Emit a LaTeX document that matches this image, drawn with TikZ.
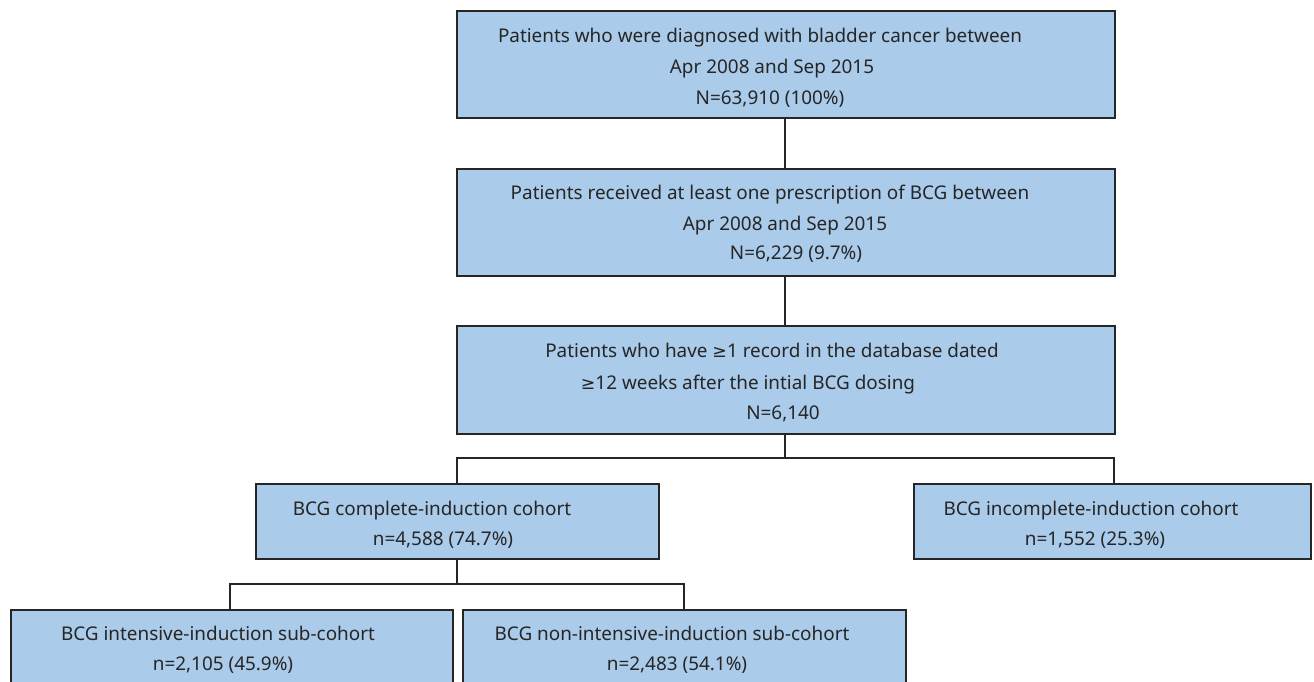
\documentclass[tikz,border=0pt]{standalone}
\usepackage{fontspec}
\setmainfont{Noto Sans}
\newfontfamily\symfnt[Scale=0.92]{DejaVu Sans}
\newcommand{\geqsym}{{\symfnt ≥}}
\definecolor{boxfill}{RGB}{170,203,233}
\begin{document}
\begin{tikzpicture}[x=1pt,y=-1pt,
  box/.style={draw=black!85, line width=1.7pt, fill=boxfill, rectangle, anchor=north west, inner sep=0pt},
  txt/.style={anchor=mid, yshift=-4.5pt, inner sep=0pt, font=\fontsize{18.9}{22}\selectfont, text=black!85},
  conn/.style={draw=black!85, line width=1.7pt}]
\clip (0,0) rectangle (1314,681);
% boxes
\node[box, minimum width=658pt, minimum height=107pt] (A) at (456,10) {};
\node[box, minimum width=658pt, minimum height=107pt] (B) at (456,168) {};
\node[box, minimum width=658pt, minimum height=108pt] (C) at (456,325) {};
\node[box, minimum width=403pt, minimum height=75pt] (D) at (255,483) {};
\node[box, minimum width=397pt, minimum height=75pt] (E) at (913,483) {};
\node[box, minimum width=442pt, minimum height=100pt] (F) at (10,609) {};
\node[box, minimum width=443pt, minimum height=100pt] (G) at (462,609) {};
% texts
\node[txt] (a1) at (760,35) {Patients who were diagnosed with bladder cancer between};
\node[txt] (a2) at (772,66) {Apr 2008 and Sep 2015};
\node[txt] (a3) at (770,97) {N=63,910 (100\%)};
\node[txt] (b1) at (770,192) {Patients received at least one prescription of BCG between};
\node[txt] (b2) at (785,223) {Apr 2008 and Sep 2015};
\node[txt] (b3) at (796,252) {N=6,229 (9.7\%)};
\node[txt] (c1) at (772,350) {Patients who have \geqsym1 record in the database dated};
\node[txt] (c2) at (748,382) {\geqsym12 weeks after the intial BCG dosing};
\node[txt] (c3) at (783,412) {N=6,140};
\node[txt] (d1) at (432,508) {BCG complete-induction cohort};
\node[txt] (d2) at (443,538) {n=4,588 (74.7\%)};
\node[txt] (e1) at (1091,508) {BCG incomplete-induction cohort};
\node[txt] (e2) at (1095,538) {n=1,552 (25.3\%)};
\node[txt] (f1) at (218,633) {BCG intensive-induction sub-cohort};
\node[txt] (f2) at (223,663) {n=2,105 (45.9\%)};
\node[txt] (g1) at (672,633) {BCG non-intensive-induction sub-cohort};
\node[txt] (g2) at (677,663) {n=2,483 (54.1\%)};
% connectors
\coordinate (j1) at (785,458);
\coordinate (j2) at (457,584);
\draw[conn] (A.south -| j1) -- (B.north -| j1);
\draw[conn] (B.south -| j1) -- (C.north -| j1);
\draw[conn] (C.south -| j1) -- (j1);
\draw[conn] (D.north -| j2) |- (j1) -| (E.north -| 1114,0);
\draw[conn] (D.south -| j2) -- (j2);
\draw[conn] (F.north -| 230,0) |- (j2) -| (G.north -| 684,0);
\end{tikzpicture}
\end{document}
